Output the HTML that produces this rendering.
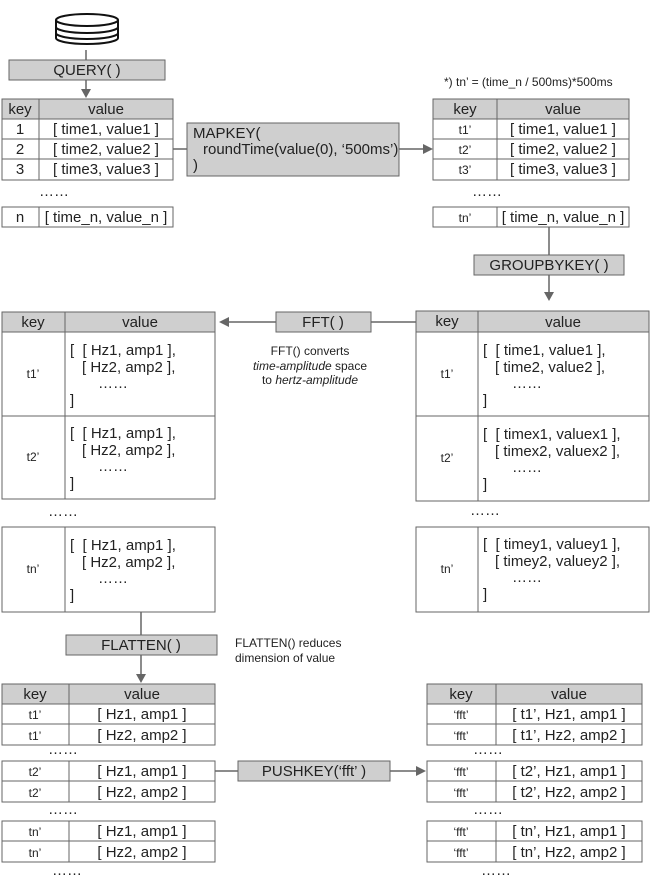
<!DOCTYPE html>
<html><head><meta charset="utf-8"><style>
html,body{margin:0;padding:0;background:#fff;width:650px;height:883px;overflow:hidden}
svg text{font-family:"Liberation Sans",Arial,sans-serif;fill:#222}
.b{fill:#fff;stroke:#666;stroke-width:1}
.h{fill:#cfcfcf;stroke:#666;stroke-width:1}
.l{stroke:#666;stroke-width:1.5;fill:none}
.ah{fill:#666}
.t{font-size:15px}
.s{font-size:12px}
.k{font-size:12px}
</style></head><body>
<svg width="650" height="883" viewBox="0 0 650 883" xmlns="http://www.w3.org/2000/svg">
<g fill="#fff" stroke="#111" stroke-width="2">
<path d="M56 20 v18 a31 6 0 0 0 62 0 v-18"/>
<ellipse cx="87" cy="20" rx="31" ry="6"/>
<path d="M56 27 a31 6 0 0 0 62 0 M56 33 a31 6 0 0 0 62 0" fill="none"/>
</g>
<line class="l" x1="86" y1="50" x2="86" y2="60"/>
<rect class="h" x="9" y="60" width="156" height="20"/>
<text class="t" x="87" y="75" text-anchor="middle">QUERY( )</text>
<line class="l" x1="86" y1="80" x2="86" y2="90"/>
<polygon class="ah" points="81,89 91,89 86,98"/>

<rect class="h" x="2" y="99" width="171" height="20"/>
<line stroke="#666" x1="39" y1="99" x2="39" y2="180"/>
<rect class="b" x="2" y="119" width="171" height="61" style="fill:none"/>
<line stroke="#666" x1="2" y1="139" x2="173" y2="139"/><line stroke="#666" x1="2" y1="159" x2="173" y2="159"/>
<text class="t" x="20" y="114" text-anchor="middle">key</text><text class="t" x="106" y="114" text-anchor="middle">value</text>
<text class="t" x="20" y="134" text-anchor="middle">1</text><text class="t" x="106" y="134" text-anchor="middle">[ time1, value1 ]</text>
<text class="t" x="20" y="154" text-anchor="middle">2</text><text class="t" x="106" y="154" text-anchor="middle">[ time2, value2 ]</text>
<text class="t" x="20" y="174" text-anchor="middle">3</text><text class="t" x="106" y="174" text-anchor="middle">[ time3, value3 ]</text>
<text class="t" x="39" y="196">……</text>
<rect class="b" x="2" y="207" width="171" height="20"/><line stroke="#666" x1="39" y1="207" x2="39" y2="227"/>
<text class="t" x="20" y="222" text-anchor="middle">n</text><text class="t" x="106" y="222" text-anchor="middle">[ time_n, value_n ]</text>

<line class="l" x1="173" y1="149" x2="187" y2="149"/>
<rect class="h" x="187" y="123" width="212" height="53"/>
<text class="t" x="193" y="138">MAPKEY(</text>
<text class="t" x="203" y="154">roundTime(value(0), ‘500ms’)</text>
<text class="t" x="193" y="170">)</text>
<line class="l" x1="399" y1="149" x2="424" y2="149"/>
<polygon class="ah" points="423,144 433,149 423,154"/>

<text class="s" x="444" y="86">*) tn’ = (time_n / 500ms)*500ms</text>
<rect class="h" x="433" y="99" width="196" height="20"/>
<rect class="b" x="433" y="119" width="196" height="61" style="fill:none"/>
<line stroke="#666" x1="497" y1="99" x2="497" y2="180"/>
<line stroke="#666" x1="433" y1="139" x2="629" y2="139"/><line stroke="#666" x1="433" y1="159" x2="629" y2="159"/>
<text class="t" x="465" y="114" text-anchor="middle">key</text><text class="t" x="563" y="114" text-anchor="middle">value</text>
<text class="k" x="465" y="134" text-anchor="middle">t1’</text><text class="t" x="563" y="134" text-anchor="middle">[ time1, value1 ]</text>
<text class="k" x="465" y="154" text-anchor="middle">t2’</text><text class="t" x="563" y="154" text-anchor="middle">[ time2, value2 ]</text>
<text class="k" x="465" y="174" text-anchor="middle">t3’</text><text class="t" x="563" y="174" text-anchor="middle">[ time3, value3 ]</text>
<text class="t" x="472" y="196">……</text>
<rect class="b" x="433" y="207" width="196" height="20"/><line stroke="#666" x1="497" y1="207" x2="497" y2="227"/>
<text class="k" x="465" y="222" text-anchor="middle">tn’</text><text class="t" x="563" y="222" text-anchor="middle">[ time_n, value_n ]</text>

<line class="l" x1="549" y1="227" x2="549" y2="255"/>
<rect class="h" x="474" y="255" width="150" height="20"/>
<text class="t" x="549" y="270" text-anchor="middle">GROUPBYKEY( )</text>
<line class="l" x1="549" y1="275" x2="549" y2="293"/>
<polygon class="ah" points="544,292 554,292 549,301"/>

<rect class="h" x="2" y="312" width="213" height="20"/>
<rect class="b" x="2" y="332" width="213" height="167" style="fill:none"/>
<line stroke="#666" x1="2" y1="416" x2="215" y2="416"/>
<line stroke="#666" x1="65" y1="312" x2="65" y2="499"/>
<text class="t" x="33" y="327" text-anchor="middle">key</text><text class="t" x="140" y="327" text-anchor="middle">value</text>
<text class="k" x="33" y="378" text-anchor="middle">t1’</text>
<text class="t" x="70" y="355">[&#160;&#160;[ Hz1, amp1 ],</text><text class="t" x="82" y="372">[ Hz2, amp2 ],</text><text class="t" x="98" y="388">……</text><text class="t" x="70" y="405">]</text>
<text class="k" x="33" y="461" text-anchor="middle">t2’</text>
<text class="t" x="70" y="438">[&#160;&#160;[ Hz1, amp1 ],</text><text class="t" x="82" y="455">[ Hz2, amp2 ],</text><text class="t" x="98" y="471">……</text><text class="t" x="70" y="488">]</text>
<text class="t" x="48" y="516">……</text>
<rect class="b" x="2" y="527" width="213" height="85"/><line stroke="#666" x1="65" y1="527" x2="65" y2="612"/>
<text class="k" x="33" y="573" text-anchor="middle">tn’</text>
<text class="t" x="70" y="550">[&#160;&#160;[ Hz1, amp1 ],</text><text class="t" x="82" y="567">[ Hz2, amp2 ],</text><text class="t" x="98" y="583">……</text><text class="t" x="70" y="600">]</text>

<line class="l" x1="418" y1="322" x2="371" y2="322"/>
<rect class="h" x="276" y="312" width="95" height="20"/>
<text class="t" x="323" y="327" text-anchor="middle">FFT( )</text>
<line class="l" x1="276" y1="322" x2="228" y2="322"/>
<polygon class="ah" points="229,317 219,322 229,327"/>
<text class="s" x="310" y="355" text-anchor="middle">FFT() converts</text>
<text class="s" x="310" y="370" text-anchor="middle"><tspan font-style="italic">time-amplitude</tspan> space</text>
<text class="s" x="310" y="384" text-anchor="middle">to <tspan font-style="italic">hertz-amplitude</tspan></text>

<rect class="h" x="416" y="311" width="233" height="21"/>
<rect class="b" x="416" y="332" width="233" height="169" style="fill:none"/>
<line stroke="#666" x1="416" y1="416" x2="649" y2="416"/>
<line stroke="#666" x1="478" y1="311" x2="478" y2="501"/>
<text class="t" x="447" y="326" text-anchor="middle">key</text><text class="t" x="563" y="327" text-anchor="middle">value</text>
<text class="k" x="447" y="378" text-anchor="middle">t1’</text>
<text class="t" x="483" y="355">[&#160;&#160;[ time1, value1 ],</text><text class="t" x="495" y="372">[ time2, value2 ],</text><text class="t" x="512" y="388">……</text><text class="t" x="483" y="405">]</text>
<text class="k" x="447" y="462" text-anchor="middle">t2’</text>
<text class="t" x="483" y="439">[&#160;&#160;[ timex1, valuex1 ],</text><text class="t" x="495" y="456">[ timex2, valuex2 ],</text><text class="t" x="512" y="472">……</text><text class="t" x="483" y="489">]</text>
<text class="t" x="470" y="515">……</text>
<rect class="b" x="416" y="527" width="233" height="85"/><line stroke="#666" x1="478" y1="527" x2="478" y2="612"/>
<text class="k" x="447" y="573" text-anchor="middle">tn’</text>
<text class="t" x="483" y="549">[&#160;&#160;[ timey1, valuey1 ],</text><text class="t" x="495" y="566">[ timey2, valuey2 ],</text><text class="t" x="512" y="582">……</text><text class="t" x="483" y="599">]</text>

<line class="l" x1="141" y1="612" x2="141" y2="635"/>
<rect class="h" x="66" y="635" width="151" height="20"/>
<text class="t" x="141" y="650" text-anchor="middle">FLATTEN( )</text>
<line class="l" x1="141" y1="655" x2="141" y2="675"/>
<polygon class="ah" points="136,674 146,674 141,683"/>
<text class="s" x="235" y="647">FLATTEN() reduces</text>
<text class="s" x="235" y="662">dimension of value</text>

<rect class="h" x="2" y="684" width="213" height="20"/>
<line stroke="#666" x1="69" y1="684" x2="69" y2="704"/>
<text class="t" x="35" y="699" text-anchor="middle">key</text><text class="t" x="142" y="699" text-anchor="middle">value</text>
<rect class="b" x="2" y="704" width="213" height="41"/><line stroke="#666" x1="2" y1="724" x2="215" y2="724"/><line stroke="#666" x1="69" y1="704" x2="69" y2="745"/>
<text class="k" x="35" y="719" text-anchor="middle">t1’</text><text class="t" x="142" y="719" text-anchor="middle">[ Hz1, amp1 ]</text>
<text class="k" x="35" y="740" text-anchor="middle">t1’</text><text class="t" x="142" y="740" text-anchor="middle">[ Hz2, amp2 ]</text>
<text class="t" x="48" y="754">……</text>
<rect class="b" x="2" y="761" width="213" height="41"/><line stroke="#666" x1="2" y1="781" x2="215" y2="781"/><line stroke="#666" x1="69" y1="761" x2="69" y2="802"/>
<text class="k" x="35" y="776" text-anchor="middle">t2’</text><text class="t" x="142" y="776" text-anchor="middle">[ Hz1, amp1 ]</text>
<text class="k" x="35" y="797" text-anchor="middle">t2’</text><text class="t" x="142" y="797" text-anchor="middle">[ Hz2, amp2 ]</text>
<text class="t" x="48" y="814">……</text>
<rect class="b" x="2" y="821" width="213" height="41"/><line stroke="#666" x1="2" y1="841" x2="215" y2="841"/><line stroke="#666" x1="69" y1="821" x2="69" y2="862"/>
<text class="k" x="35" y="836" text-anchor="middle">tn’</text><text class="t" x="142" y="836" text-anchor="middle">[ Hz1, amp1 ]</text>
<text class="k" x="35" y="857" text-anchor="middle">tn’</text><text class="t" x="142" y="857" text-anchor="middle">[ Hz2, amp2 ]</text>
<text class="t" x="52" y="875">……</text>

<line class="l" x1="215" y1="771" x2="238" y2="771"/>
<rect class="h" x="238" y="761" width="152" height="20"/>
<text class="t" x="314" y="776" text-anchor="middle">PUSHKEY(‘fft’ )</text>
<line class="l" x1="390" y1="771" x2="417" y2="771"/>
<polygon class="ah" points="416,766 426,771 416,776"/>

<rect class="h" x="427" y="684" width="215" height="20"/>
<line stroke="#666" x1="496" y1="684" x2="496" y2="704"/>
<text class="t" x="461" y="699" text-anchor="middle">key</text><text class="t" x="569" y="699" text-anchor="middle">value</text>
<rect class="b" x="427" y="704" width="215" height="41"/><line stroke="#666" x1="427" y1="724" x2="642" y2="724"/><line stroke="#666" x1="496" y1="704" x2="496" y2="745"/>
<text class="k" x="461" y="719" text-anchor="middle">‘fft’</text><text class="t" x="569" y="719" text-anchor="middle">[ t1’, Hz1, amp1 ]</text>
<text class="k" x="461" y="740" text-anchor="middle">‘fft’</text><text class="t" x="569" y="740" text-anchor="middle">[ t1’, Hz2, amp2 ]</text>
<text class="t" x="473" y="754">……</text>
<rect class="b" x="427" y="761" width="215" height="41"/><line stroke="#666" x1="427" y1="781" x2="642" y2="781"/><line stroke="#666" x1="496" y1="761" x2="496" y2="802"/>
<text class="k" x="461" y="776" text-anchor="middle">‘fft’</text><text class="t" x="569" y="776" text-anchor="middle">[ t2’, Hz1, amp1 ]</text>
<text class="k" x="461" y="797" text-anchor="middle">‘fft’</text><text class="t" x="569" y="797" text-anchor="middle">[ t2’, Hz2, amp2 ]</text>
<text class="t" x="473" y="814">……</text>
<rect class="b" x="427" y="821" width="215" height="41"/><line stroke="#666" x1="427" y1="841" x2="642" y2="841"/><line stroke="#666" x1="496" y1="821" x2="496" y2="862"/>
<text class="k" x="461" y="836" text-anchor="middle">‘fft’</text><text class="t" x="569" y="836" text-anchor="middle">[ tn’, Hz1, amp1 ]</text>
<text class="k" x="461" y="857" text-anchor="middle">‘fft’</text><text class="t" x="569" y="857" text-anchor="middle">[ tn’, Hz2, amp2 ]</text>
<text class="t" x="481" y="875">……</text>
</svg>
</body></html>
